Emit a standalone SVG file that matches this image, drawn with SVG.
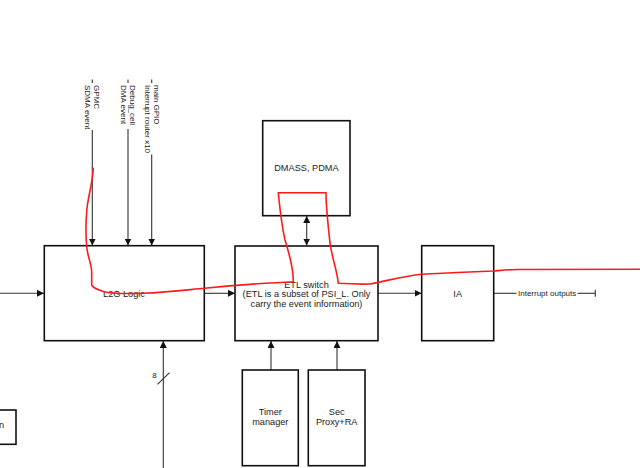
<svg xmlns="http://www.w3.org/2000/svg" width="640" height="468" viewBox="0 0 640 468">
<style>
.box{fill:#fff;stroke:#111;stroke-width:1.6}
.t{font-family:"Liberation Sans",Arial,sans-serif;font-size:9.2px;fill:#222;text-anchor:middle}
.s{font-family:"Liberation Sans",Arial,sans-serif;font-size:8px;fill:#222}
.c{fill:none;stroke:#333;stroke-width:1.1}
.red{fill:none;stroke:#ff1a1a;stroke-width:1.6;stroke-linejoin:round;stroke-linecap:round}
</style>
<defs>
<marker id="ah" viewBox="0 0 10 10" refX="10" refY="5" markerWidth="7" markerHeight="7" markerUnits="userSpaceOnUse" orient="auto-start-reverse">
<path d="M0,0 L10,5 L0,10 z" fill="#111"/>
</marker>
</defs>
<rect width="640" height="468" fill="#fff"/>

<g id="connectors">
<line class="c" x1="0" y1="293.3" x2="44" y2="293.3" marker-end="url(#ah)"/>
<line class="c" x1="92.3" y1="79.5" x2="92.3" y2="83"/>
<line class="c" x1="92.3" y1="130" x2="92.3" y2="245.5" marker-end="url(#ah)"/>
<line class="c" x1="128" y1="79.5" x2="128" y2="83"/>
<line class="c" x1="128" y1="129" x2="128" y2="245.5" marker-end="url(#ah)"/>
<line class="c" x1="151.7" y1="79.5" x2="151.7" y2="83"/>
<line class="c" x1="151.7" y1="154.5" x2="151.7" y2="245.5" marker-end="url(#ah)"/>
<line class="c" x1="204.3" y1="293.3" x2="235" y2="293.3" marker-end="url(#ah)"/>
<line class="c" x1="378" y1="293.3" x2="421.5" y2="293.3" marker-end="url(#ah)"/>
<line class="c" x1="306.7" y1="216" x2="306.7" y2="245.5" marker-start="url(#ah)" marker-end="url(#ah)"/>
<line class="c" x1="271" y1="370" x2="271" y2="341" marker-end="url(#ah)"/>
<line class="c" x1="337" y1="370" x2="337" y2="341" marker-end="url(#ah)"/>
<line class="c" x1="163.3" y1="468" x2="163.3" y2="341" marker-end="url(#ah)"/>
<line class="c" x1="157.5" y1="384.3" x2="169.5" y2="372.7"/>
<text class="s" x="154.5" y="377.5" text-anchor="middle">8</text>
<line class="c" x1="493.7" y1="293.3" x2="516.5" y2="293.3"/>
<text class="s" x="518" y="296">Interrupt outputs</text>
<line class="c" x1="577.5" y1="293.3" x2="595.3" y2="293.3"/>
<line class="c" x1="595.3" y1="289.8" x2="595.3" y2="296.8"/>
<g transform="translate(94,85) rotate(90)"><text class="s" x="0" y="0">GPMC</text><text class="s" x="0" y="8.7">SDMA event</text></g>
<g transform="translate(129.7,85) rotate(90)"><text class="s" x="0" y="0">Debug_cell</text><text class="s" x="0" y="8.7">DMA event</text></g>
<g transform="translate(154,85) rotate(90)"><text class="s" x="0" y="0">main GPIO</text><text class="s" x="0" y="8.7">Interrupt router x10</text></g>
</g>

<g id="l2g">
<rect class="box" x="44.3" y="245.7" width="160" height="95"/>
<text class="t" x="124" y="296.5">L2G Logic</text>
</g>
<g id="dmass">
<rect class="box" x="262.7" y="120.7" width="87.3" height="95"/>
<text class="t" x="306.4" y="171">DMASS, PDMA</text>
</g>
<g id="etl">
<rect class="box" x="235" y="246" width="143" height="94.7"/>
<text class="t" x="306.5" y="287.5">ETL switch</text>
<text class="t" x="306.5" y="297">(ETL is a subset of PSI_L. Only</text>
<text class="t" x="306.5" y="306.5">carry the event information)</text>
</g>
<g id="ia">
<rect class="box" x="421.7" y="245.7" width="72" height="95"/>
<text class="t" x="457.7" y="296.7">IA</text>
</g>
<g id="timer">
<rect class="box" x="242.3" y="370" width="56" height="95.7"/>
<text class="t" x="270.3" y="415">Timer</text>
<text class="t" x="270.3" y="424.5">manager</text>
</g>
<g id="secproxy">
<rect class="box" x="308.3" y="370" width="56.7" height="95.7"/>
<text class="t" x="336.7" y="415">Sec</text>
<text class="t" x="336.7" y="424.5">Proxy+RA</text>
</g>
<g id="leftbox">
<rect class="box" x="-20" y="410" width="36" height="34.3"/>
<text class="t" x="4" y="428" text-anchor="end" style="text-anchor:end">n</text>
</g>

<path class="red" d="M93.3,168.3 C92.5,185 87,200 86.7,212 C85.5,225 85.7,235 86.7,247 C88,258 91.7,265 91.7,272 L91.7,285 C92.5,288 97,289.5 103.3,291.5 C110,293.5 120,294 143.3,293.3 C170,292 190,289.5 204.3,288.3 C225,286 250,284 276.7,282.7 L293.3,281.7 C293.5,270 290,256 285,240 C281,222 279.5,205 278.3,192.7 L326,192.7 C326,205 328,225 330,243 C332,258 337,270 338.3,283.3 C350,284 360,284.3 370,284 C390,280 405,276 421.7,274.3 C445,273 470,272 493.3,271 C500,270.5 508,269.7 516.7,269.5 L640,269.3"/>
</svg>
